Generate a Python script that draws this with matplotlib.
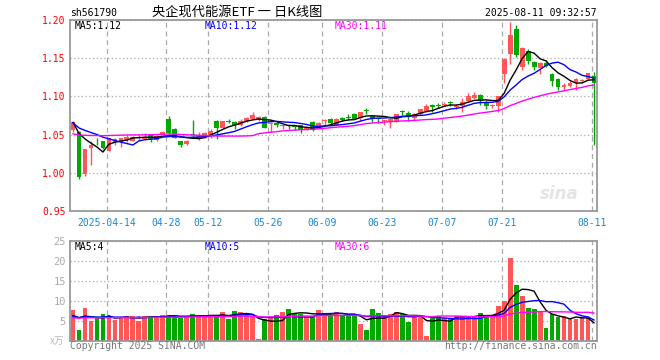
import matplotlib
matplotlib.use('Agg')
import matplotlib.pyplot as plt
import numpy as np
import pandas as pd

# Tageskerzen 2025-04-03 .. 2025-08-11 (88 Handelstage)
opens = [1.056, 1.054, 0.998, 1.032, 1.042, 1.042, 1.029, 1.040, 1.040, 1.043,
         1.042, 1.045, 1.044, 1.050, 1.043, 1.050, 1.071, 1.057, 1.041, 1.038,
         1.050, 1.045, 1.047, 1.049, 1.068, 1.059, 1.068, 1.067, 1.063, 1.068,
         1.071, 1.069, 1.073, 1.064, 1.065, 1.061, 1.062, 1.061, 1.062, 1.057,
         1.067, 1.059, 1.068, 1.070, 1.063, 1.072, 1.073, 1.077, 1.072, 1.082,
         1.075, 1.071, 1.068, 1.066, 1.067, 1.081, 1.078, 1.072, 1.077, 1.081,
         1.089, 1.089, 1.089, 1.093, 1.086, 1.087, 1.094, 1.098, 1.102, 1.093,
         1.087, 1.087, 1.129, 1.156, 1.188, 1.138, 1.159, 1.145, 1.137, 1.144,
         1.129, 1.123, 1.112, 1.113, 1.118, 1.120, 1.123, 1.127]
highs = [1.067, 1.055, 1.031, 1.042, 1.046, 1.042, 1.046, 1.046, 1.046, 1.049,
         1.048, 1.049, 1.052, 1.051, 1.049, 1.055, 1.075, 1.058, 1.042, 1.043,
         1.069, 1.053, 1.054, 1.057, 1.069, 1.068, 1.071, 1.068, 1.070, 1.073,
         1.079, 1.074, 1.074, 1.066, 1.067, 1.063, 1.064, 1.063, 1.063, 1.060,
         1.068, 1.067, 1.071, 1.072, 1.072, 1.073, 1.077, 1.078, 1.080, 1.085,
         1.076, 1.072, 1.069, 1.072, 1.077, 1.082, 1.081, 1.078, 1.083, 1.090,
         1.090, 1.092, 1.093, 1.094, 1.090, 1.098, 1.104, 1.106, 1.103, 1.095,
         1.090, 1.101, 1.150, 1.197, 1.193, 1.165, 1.162, 1.146, 1.145, 1.148,
         1.130, 1.124, 1.118, 1.120, 1.124, 1.123, 1.131, 1.132]
lows = [1.053, 0.992, 0.996, 1.010, 1.036, 1.031, 1.028, 1.036, 1.034, 1.040,
        1.041, 1.043, 1.043, 1.040, 1.041, 1.049, 1.050, 1.045, 1.034, 1.037,
        1.045, 1.043, 1.046, 1.046, 1.044, 1.058, 1.065, 1.057, 1.061, 1.066,
        1.070, 1.068, 1.058, 1.054, 1.060, 1.057, 1.057, 1.056, 1.052, 1.056,
        1.055, 1.058, 1.063, 1.062, 1.062, 1.068, 1.069, 1.070, 1.068, 1.077,
        1.066, 1.065, 1.062, 1.058, 1.066, 1.076, 1.068, 1.068, 1.076, 1.080,
        1.080, 1.085, 1.087, 1.087, 1.084, 1.079, 1.093, 1.097, 1.089, 1.083,
        1.085, 1.080, 1.118, 1.143, 1.151, 1.135, 1.143, 1.134, 1.129, 1.139,
        1.114, 1.109, 1.109, 1.112, 1.109, 1.117, 1.122, 1.036]
closes = [1.066, 0.994, 1.031, 1.037, 1.041, 1.033, 1.045, 1.044, 1.045, 1.047,
          1.047, 1.047, 1.047, 1.044, 1.048, 1.053, 1.052, 1.046, 1.037, 1.042,
          1.049, 1.050, 1.052, 1.055, 1.059, 1.068, 1.067, 1.063, 1.068, 1.072,
          1.076, 1.073, 1.059, 1.065, 1.062, 1.062, 1.061, 1.060, 1.056, 1.059,
          1.056, 1.065, 1.069, 1.065, 1.071, 1.069, 1.072, 1.071, 1.079, 1.081,
          1.070, 1.070, 1.069, 1.071, 1.077, 1.080, 1.073, 1.077, 1.083, 1.088,
          1.086, 1.088, 1.090, 1.092, 1.087, 1.093, 1.100, 1.102, 1.094, 1.088,
          1.089, 1.100, 1.149, 1.181, 1.154, 1.164, 1.146, 1.138, 1.144, 1.140,
          1.120, 1.112, 1.115, 1.117, 1.123, 1.121, 1.130, 1.118]
# Volumen in 万
volumes = [7.75, 2.75, 8.25, 5.0, 5.75, 6.75, 5.8, 5.25, 5.75, 6.25,
           6.25, 5.0, 6.25, 6.25, 6.25, 6.5, 6.25, 6.25, 5.7, 6.25,
           6.75, 6.25, 6.5, 6.25, 6.25, 7.25, 5.6, 7.5, 7.25, 6.75,
           6.25, 0.5, 5.4, 6.0, 6.5, 7.25, 8.0, 6.75, 6.75, 6.25,
           6.25, 7.75, 6.75, 6.5, 7.25, 6.25, 6.5, 6.75, 4.25, 2.75,
           8.0, 7.0, 6.5, 6.75, 7.25, 6.75, 4.75, 6.5, 6.5, 1.25,
           5.75, 6.25, 5.75, 5.75, 6.25, 6.25, 6.25, 6.0, 7.0, 6.25,
           6.5, 8.75, 10.0, 20.75, 14.0, 11.25, 8.25, 8.0, 7.5, 3.25,
           6.75, 6.0, 6.25, 5.5, 5.5, 5.75, 5.75, 0.25]

# Werte vor dem sichtbaren Bereich (nur fuer die gleitenden Durchschnitte)
prior_closes = [1.040, 1.043, 1.045, 1.042, 1.040, 1.038, 1.036, 1.039, 1.041, 1.044,
                1.046, 1.043, 1.041, 1.039, 1.042, 1.045, 1.048, 1.052, 1.055, 1.058,
                1.061, 1.063, 1.065, 1.067, 1.068, 1.066, 1.067, 1.065, 1.066]
prior_volumes = [5.2, 5.6, 4.9, 5.8, 6.1, 5.4, 5.0, 5.7, 6.3, 5.5,
                 5.9, 5.2, 5.6, 6.0, 5.3, 5.8, 6.2, 5.5, 5.1, 5.7,
                 6.4, 5.9, 5.6, 6.1, 6.0, 5.4, 6.3, 5.8, 6.6]

date_ticks = [6, 16, 23, 33, 42, 52, 62, 72, 87]
date_labels = ['2025-04-14', '04-28', '05-12', '05-26', '06-09',
               '06-23', '07-07', '07-21', '08-11']
price_ticks = [0.95, 1.00, 1.05, 1.10, 1.15, 1.20]
vol_ticks = [5, 10, 15, 20, 25]

RED = '#ff5656'
GREEN = '#00a800'
GRID = '#aaaaaa'
FRAME = '#999999'
MONO = 'DejaVu Sans Mono'
CJK = ['Noto Sans CJK SC', 'DejaVu Sans']


def gleitender_schnitt(prior, werte, n):
    s = pd.Series(prior + werte)
    return s.rolling(n).mean().iloc[len(prior):].to_numpy()


def achse_stylen(ax):
    for sp in ax.spines.values():
        sp.set_color(FRAME)
        sp.set_linewidth(1.3)
    ax.set_axisbelow(True)
    ax.grid(axis='y', color=GRID, linestyle=(0, (1, 2)), linewidth=0.9)
    ax.grid(axis='x', color=GRID, linestyle=(0, (4, 3)), linewidth=0.9)
    ax.tick_params(length=0)
    ax.set_xlim(-0.5, len(closes) - 0.5)
    ax.set_xticks([t - 0.4 for t in date_ticks])


fig = plt.figure(figsize=(6.6, 3.6), dpi=100)
ax1 = fig.add_axes([70 / 660, 149 / 360, 527 / 660, 191 / 360])
ax2 = fig.add_axes([70 / 660, 19 / 360, 527 / 660, 100 / 360])

x = np.arange(len(closes))
o = np.array(opens)
c = np.array(closes)
farben = [RED if cc >= oo else GREEN for oo, cc in zip(o, c)]

# Kerzen
ax1.vlines(x, lows, highs, colors=farben, linewidth=1)
koerper = np.maximum(np.abs(c - o), 0.0012)
ax1.bar(x, koerper, bottom=np.minimum(o, c), width=0.8, color=farben, linewidth=0)

ax1.plot(x, gleitender_schnitt(prior_closes, closes, 5), color='black', lw=1)
ax1.plot(x, gleitender_schnitt(prior_closes, closes, 10), color='#0000ff', lw=1)
ax1.plot(x, gleitender_schnitt(prior_closes, closes, 30), color='#ff00ff', lw=1)

achse_stylen(ax1)
ax1.set_ylim(0.95, 1.20)
ax1.set_yticks(price_ticks)
ax1.set_yticklabels(['%.2f' % p for p in price_ticks], color='red',
                    family=MONO, fontsize=7)
ax1.tick_params(axis='y', pad=3)
ax1.set_xticklabels(date_labels, color='#1b87d0', family=MONO, fontsize=7)
ax1.tick_params(axis='x', pad=5)

ax1.text(5 / 527, 1 - 6 / 191, 'MA5:1.12', transform=ax1.transAxes, family=MONO,
         fontsize=7, color='black', va='center')
ax1.text(135 / 527, 1 - 6 / 191, 'MA10:1.12', transform=ax1.transAxes, family=MONO,
         fontsize=7, color='#0000ff', va='center')
ax1.text(265 / 527, 1 - 6 / 191, 'MA30:1.11', transform=ax1.transAxes, family=MONO,
         fontsize=7, color='#ff00ff', va='center')
ax1.text(0.965, 0.09, 'sina', transform=ax1.transAxes, fontsize=12, color='#e4e4e4',
         style='italic', fontweight='bold', ha='right', va='center')

# Volumen
ax2.bar(x, volumes, width=0.8, color=farben, linewidth=0)
ax2.plot(x, gleitender_schnitt(prior_volumes, volumes, 5), color='black', lw=1)
ax2.plot(x, gleitender_schnitt(prior_volumes, volumes, 10), color='#0000ff', lw=1)
ax2.plot(x, gleitender_schnitt(prior_volumes, volumes, 30), color='#ff00ff', lw=1)

achse_stylen(ax2)
ax2.set_ylim(0, 25)
ax2.set_yticks(vol_ticks)
ax2.set_yticklabels([str(v) for v in vol_ticks], color='#aaaaaa', family=MONO, fontsize=7.5)
ax2.tick_params(axis='y', pad=3)
ax2.set_xticklabels([])

ax2.text(5 / 527, 1 - 6 / 100, 'MA5:4', transform=ax2.transAxes, family=MONO,
         fontsize=7, color='black', va='center')
ax2.text(135 / 527, 1 - 6 / 100, 'MA10:5', transform=ax2.transAxes, family=MONO,
         fontsize=7, color='#0000ff', va='center')
ax2.text(265 / 527, 1 - 6 / 100, 'MA30:6', transform=ax2.transAxes, family=MONO,
         fontsize=7, color='#ff00ff', va='center')

# Kopf- und Fusszeilen
fig.text(70 / 660, 1 - 13 / 360, 'sh561790', family=MONO, fontsize=7, va='center')
fig.text(237 / 660, 1 - 12 / 360, '央企现代能源ETF 一 日K线图', family=CJK,
         fontsize=9.5, ha='center', va='center')
fig.text(597 / 660, 1 - 13 / 360, '2025-08-11 09:32:57', family=MONO, fontsize=7,
         ha='right', va='center')
fig.text(64 / 660, 1 - 341 / 360, 'x万', family=CJK, fontsize=7, color='#bbbbbb',
         ha='right', va='center')
fig.text(70 / 660, 1 - 346 / 360, 'Copyright 2025 SINA.COM', family=MONO, fontsize=7,
         color='#777777', va='center')
fig.text(597 / 660, 1 - 346 / 360, 'http://finance.sina.com.cn', family=MONO, fontsize=7,
         color='#777777', ha='right', va='center')

fig.savefig('out.png', dpi=100, facecolor='white')
